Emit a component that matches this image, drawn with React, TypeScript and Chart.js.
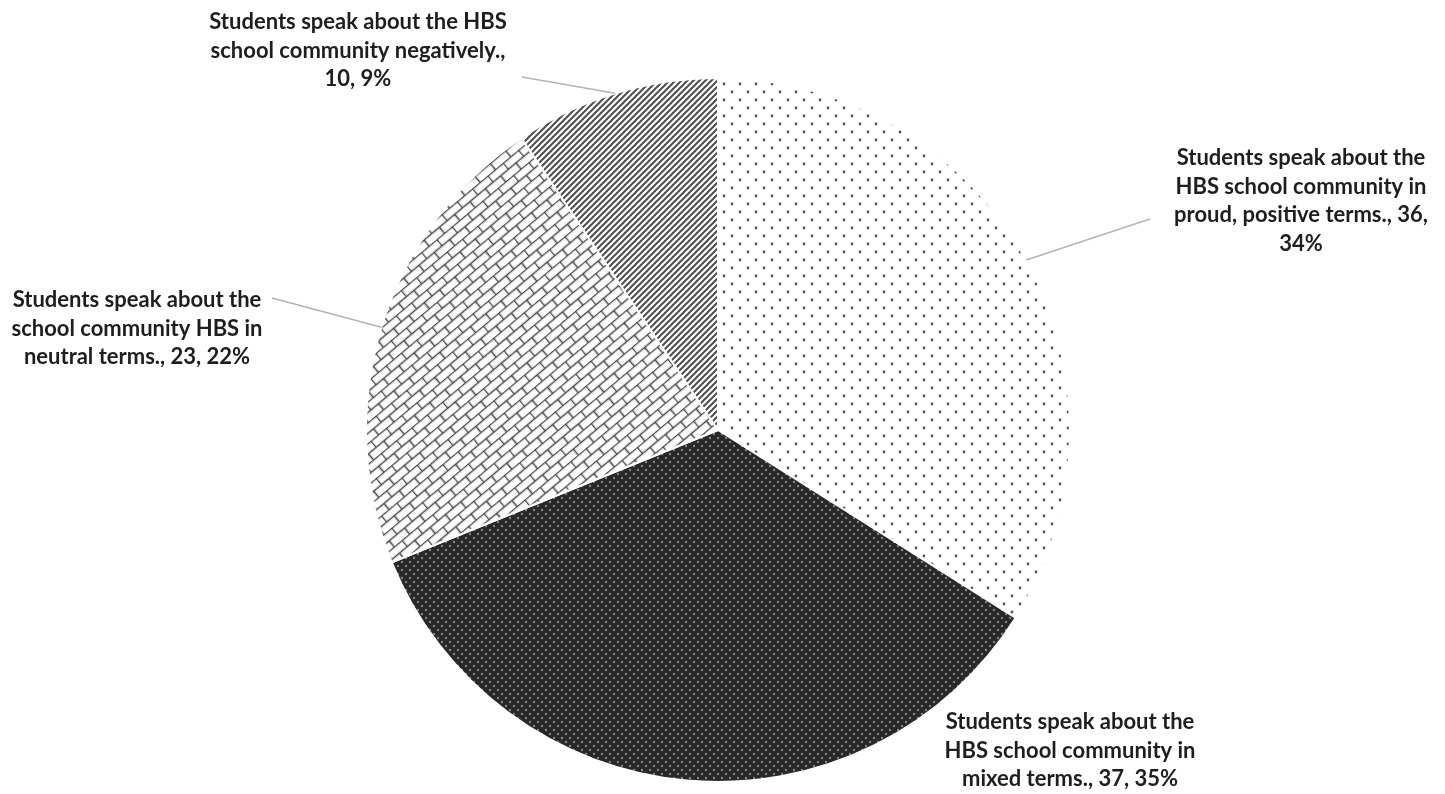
import React, { useEffect, useRef } from "react";
import { Chart, registerables } from "chart.js";

Chart.register(...registerables);

// Survey responses, clockwise from 12 o'clock
const categories = [
  "Students speak about the HBS school community in proud, positive terms.",
  "Students speak about the HBS school community in mixed terms.",
  "Students speak about the school community HBS in neutral terms.",
  "Students speak about the HBS school community negatively.",
];
const counts = [36, 37, 23, 10];

// Words per line for each wrapped data label
const labelWordsPerLine = [
  [4, 4, 4, 1],
  [4, 4, 4],
  [4, 4, 4],
  [5, 3, 2],
];

// Where each data label sits and where its leader line starts
const labelCenters = [
  { cx: 1301, top: 158, leader: [1150, 219] },
  { cx: 1070, top: 722, leader: null },
  { cx: 137, top: 300, leader: [272, 298] },
  { cx: 358, top: 22, leader: [522, 77] },
];

const LABEL_FONT = "bold 22px Lato";
const LINE_HEIGHT = 28.5;
const TEXT_COLOR = "#1e1e1e";
const LEADER_COLOR = "#b4b4b4";

function makeTile(w: number, h: number, draw: (c: CanvasRenderingContext2D) => void) {
  const tile = document.createElement("canvas");
  tile.width = w;
  tile.height = h;
  const c = tile.getContext("2d")!;
  draw(c);
  return tile;
}

function buildPatterns(ctx: CanvasRenderingContext2D) {
  // sparse grey dots on white
  const sparseDots = makeTile(16, 16, (c) => {
    c.fillStyle = "#ffffff";
    c.fillRect(0, 0, 16, 16);
    c.fillStyle = "#555555";
    [[4, 4], [12, 12]].forEach(([x, y]) => {
      c.beginPath();
      c.arc(x, y, 1.4, 0, Math.PI * 2);
      c.fill();
    });
  });
  // light dots on near-black
  const darkDots = makeTile(8, 8, (c) => {
    c.fillStyle = "#282828";
    c.fillRect(0, 0, 8, 8);
    c.fillStyle = "#858585";
    [[2, 2], [6, 6]].forEach(([x, y]) => {
      c.beginPath();
      c.arc(x, y, 1.2, 0, Math.PI * 2);
      c.fill();
    });
  });
  // brick weave, rotated diagonally
  const bricks = makeTile(20, 16, (c) => {
    c.fillStyle = "#ffffff";
    c.fillRect(0, 0, 20, 16);
    c.strokeStyle = "#4a4a4a";
    c.lineWidth = 1.6;
    c.beginPath();
    c.moveTo(0, 0.5); c.lineTo(20, 0.5);
    c.moveTo(0, 8.5); c.lineTo(20, 8.5);
    c.moveTo(0.5, 0); c.lineTo(0.5, 8.5);
    c.moveTo(10.5, 8.5); c.lineTo(10.5, 16);
    c.stroke();
  });
  // dense forward-slash hatching
  const hatch = makeTile(6, 6, (c) => {
    c.fillStyle = "#ffffff";
    c.fillRect(0, 0, 6, 6);
    c.strokeStyle = "#4e4e4e";
    c.lineWidth = 2;
    c.beginPath();
    c.moveTo(-1, 7); c.lineTo(7, -1);
    c.moveTo(-1, 1); c.lineTo(1, -1);
    c.moveTo(5, 7); c.lineTo(7, 5);
    c.stroke();
  });

  const pSparse = ctx.createPattern(sparseDots, "repeat")!;
  const pDark = ctx.createPattern(darkDots, "repeat")!;
  const pBricks = ctx.createPattern(bricks, "repeat")!;
  pBricks.setTransform(new DOMMatrix().rotateSelf(-40));
  const pHatch = ctx.createPattern(hatch, "repeat")!;
  return [pSparse, pDark, pBricks, pHatch];
}

function splitLines(text: string, counts: number[]) {
  const words = text.split(" ");
  const lines: string[] = [];
  let k = 0;
  counts.forEach((n, idx) => {
    const take = idx === counts.length - 1 ? words.length - k : n;
    lines.push(words.slice(k, k + take).join(" "));
    k += take;
  });
  return lines;
}

const labelPlugin = {
  id: "sliceLabels",
  afterDraw(chart: Chart) {
    const ctx = chart.ctx;
    const meta = chart.getDatasetMeta(0);
    const total = counts.reduce((a, b) => a + b, 0);
    ctx.save();
    meta.data.forEach((el: any, i: number) => {
      const pos = labelCenters[i];
      const { x, y, outerRadius, startAngle, endAngle } = el.getProps(
        ["x", "y", "outerRadius", "startAngle", "endAngle"],
        true
      );
      const mid = (startAngle + endAngle) / 2;
      const px = x + Math.cos(mid) * outerRadius;
      const py = y + Math.sin(mid) * outerRadius;
      if (pos.leader) {
        ctx.strokeStyle = LEADER_COLOR;
        ctx.lineWidth = 1.5;
        ctx.beginPath();
        ctx.moveTo(pos.leader[0], pos.leader[1]);
        ctx.lineTo(px, py);
        ctx.stroke();
      }
      const pct = Math.round((counts[i] / total) * 100);
      const text = `${categories[i]}, ${counts[i]}, ${pct}%`;
      ctx.font = LABEL_FONT;
      ctx.fillStyle = TEXT_COLOR;
      ctx.textAlign = "center";
      ctx.textBaseline = "middle";
      splitLines(text, labelWordsPerLine[i]).forEach((ln, k) => {
        ctx.fillText(ln, pos.cx, pos.top + k * LINE_HEIGHT);
      });
    });
    ctx.restore();
  },
};

export default function App() {
  const ref = useRef<HTMLCanvasElement | null>(null);

  useEffect(() => {
    const canvas = ref.current!;
    const ctx = canvas.getContext("2d")!;
    const fills = buildPatterns(ctx);
    const chart = new Chart(canvas, {
      type: "pie",
      data: {
        labels: categories,
        datasets: [
          {
            data: counts,
            backgroundColor: fills as any,
            borderColor: "#ffffff",
            borderWidth: 2,
            hoverOffset: 0,
            offset: 0,
          },
        ],
      },
      options: {
        responsive: false,
        animation: false,
        events: [],
        layout: { padding: { top: 77, bottom: 11, left: 300, right: 309 } },
        plugins: {
          legend: { display: false },
          tooltip: { enabled: false },
        },
      },
      plugins: [labelPlugin],
    });
    return () => chart.destroy();
  }, []);

  return (
    <div
      style={{
        position: "fixed",
        left: 0,
        top: 0,
        width: 1445,
        height: 794,
        background: "#ffffff",
      }}
    >
      <canvas ref={ref} width={1445} height={794} />
    </div>
  );
}
